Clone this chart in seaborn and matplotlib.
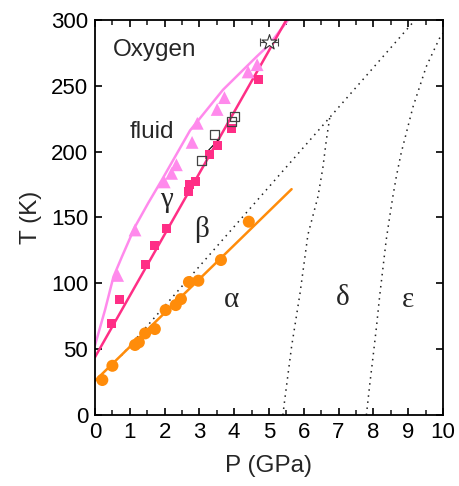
import numpy as np
import pandas as pd
import matplotlib
matplotlib.use("Agg")
import matplotlib.pyplot as plt
import seaborn as sns

# ---- data ----
alpha_P = [0.21, 0.50, 1.15, 1.26, 1.44, 1.72, 2.03, 2.32, 2.47, 2.70, 2.97, 3.62, 4.42]
alpha_T = [26.6, 37.4, 53.2, 55.2, 62.0, 65.3, 79.7, 83.5, 88.0, 101.0, 102.0, 117.7, 146.8]
alpha_fit_P = [0.0, 5.65]
alpha_fit_T = [26.0, 171.5]

beta_P = [0.48, 0.71, 1.45, 1.71, 2.05, 2.70, 2.72, 2.88, 3.30, 3.53, 3.91, 4.69]
beta_T = [69.5, 88.0, 114.5, 129.0, 142.0, 170.0, 175.0, 177.0, 197.5, 205.0, 217.5, 255.0]
beta_fit_P = [0.0, 5.5]
beta_fit_T = [44.0, 300.0]

gamma_P = [0.65, 1.15, 1.99, 2.20, 2.34, 2.79, 2.94, 3.51, 3.72, 4.40, 4.66]
gamma_T = [106.0, 140.5, 177.0, 183.5, 190.0, 207.0, 221.5, 232.0, 241.0, 260.5, 266.0]
melt_P = [0.0, 0.29, 0.53, 0.77, 1.15, 1.53, 1.91, 2.73, 3.68, 4.64, 5.0, 5.55]
melt_T = [53.0, 80.0, 105.0, 120.0, 143.0, 161.0, 178.0, 216.0, 247.0, 272.0, 281.0, 300.0]

open_P = [3.06, 3.42, 3.92, 4.02]
open_T = [193.6, 213.0, 222.7, 226.5]
open_seg_P = [3.25, 3.56]
open_seg_T = [200.7, 209.3]

star_P = [5.0]
star_T = [283.5]
star_Perr = [0.27]

# phase boundaries (dotted)
ab_P = [0.75, 9.2]
ab_T = [45.0, 300.0]
ad_P = [5.40, 5.45, 5.65, 5.89, 6.12, 6.41, 6.55, 6.65, 6.75]
ad_T = [0.0, 11.0, 52.0, 92.0, 137.0, 166.0, 188.0, 209.0, 226.5]
de_P = [7.80, 7.90, 7.99, 8.09, 8.18, 8.28, 8.37, 8.47, 8.56, 8.66, 8.80, 9.14, 9.52, 9.90, 10.0]
de_T = [0.0, 24.0, 44.0, 67.0, 90.0, 112.6, 133.0, 150.6, 165.8, 181.0, 199.0, 234.0, 264.5, 286.0, 290.0]

labels = ["Oxygen", "fluid", "γ", "β", "α", "δ", "ε"]
label_P = [1.72, 1.64, 2.06, 3.06, 3.92, 7.13, 9.0]
label_T = [277.0, 215.0, 163.0, 140.5, 87.0, 88.6, 87.0]

x_ticks = list(range(0, 11))
y_ticks = [0, 50, 100, 150, 200, 250, 300]

# ---- style ----
sns.set_theme(style="ticks")
plt.rcParams['font.family'] = ['Liberation Sans', 'DejaVu Sans']
plt.rcParams.update({
    'xtick.direction': 'in', 'ytick.direction': 'in',
    'xtick.top': True, 'ytick.right': True,
    'axes.linewidth': 1.3,
})

ORANGE = "#FF8C0A"
PINK = "#FF2E86"
LPINK = "#FF8AEC"

fig = plt.figure(figsize=(4.59, 4.86), dpi=100)
ax = fig.add_axes([0.207, 0.146, 0.758, 0.813])

def line(P, T, **kw):
    sns.lineplot(x=P, y=T, ax=ax, sort=False, estimator=None, legend=False, **kw)

# dotted phase boundaries
for P, T in [(ab_P, ab_T), (ad_P, ad_T), (de_P, de_T)]:
    line(P, T, color="#222222", linestyle=(0, (1, 3)), linewidth=1.1)

# fit / boundary lines
line(melt_P, melt_T, color=LPINK, linewidth=1.8)
line(beta_fit_P, beta_fit_T, color=PINK, linewidth=1.8)
line(alpha_fit_P, alpha_fit_T, color=ORANGE, linewidth=1.8)
line(open_seg_P, open_seg_T, color="black", linewidth=0.8)

# markers
sns.scatterplot(x=gamma_P, y=gamma_T, ax=ax, marker="^", s=85, color=LPINK,
                edgecolor="none", zorder=5)
sns.scatterplot(x=beta_P, y=beta_T, ax=ax, marker="s", s=42, color=PINK,
                edgecolor="none", zorder=5)
sns.scatterplot(x=alpha_P, y=alpha_T, ax=ax, marker="o", s=75, color=ORANGE,
                edgecolor="none", zorder=5)
sns.scatterplot(x=open_P, y=open_T, ax=ax, marker="s", s=42, facecolor="none",
                edgecolor="#444444", linewidth=0.9, zorder=6)
ax.errorbar(star_P, star_T, xerr=star_Perr, fmt="none", ecolor="#444444",
            elinewidth=0.8, capsize=3, capthick=0.8, zorder=6)
sns.scatterplot(x=star_P, y=star_T, ax=ax, marker="*", s=130, facecolor="white",
                edgecolor="#333333", linewidth=0.8, zorder=7)

# labels
for txt, px, ty in zip(labels, label_P, label_T):
    if txt in ("Oxygen", "fluid"):
        ax.text(px, ty, txt, ha="center", va="center", fontsize=17.5)
    else:
        ax.text(px, ty, txt, ha="center", va="center", fontsize=21,
                family=["Liberation Serif", "DejaVu Serif"])

ax.set_xlim(0, 10)
ax.set_ylim(0, 300)
ax.set_xticks(x_ticks)
ax.set_xticks(np.arange(0.5, 10, 1.0), minor=True)
ax.set_yticks(y_ticks)
ax.tick_params(axis="both", which="major", labelsize=16, length=5, width=1.2,
               pad=5, color="black", labelcolor="black")
ax.tick_params(axis="x", which="minor", length=3.5, width=1.2, top=True)
ax.set_xlabel("P (GPa)", fontsize=17.5, labelpad=9)
ax.set_ylabel("T (K)", fontsize=17.5, labelpad=6)
for s in ax.spines.values():
    s.set_color("black")

fig.savefig("out.png", dpi=100)
